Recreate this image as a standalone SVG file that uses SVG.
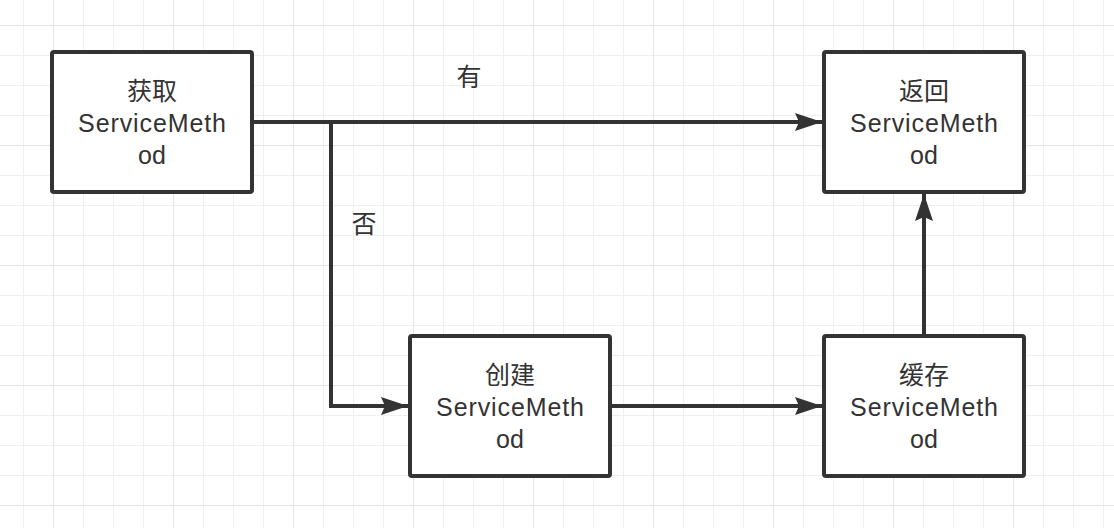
<svg xmlns="http://www.w3.org/2000/svg" width="1114" height="528" viewBox="0 0 1114 528">
  <defs>
    <pattern id="minor" x="23" y="25" width="30" height="30" patternUnits="userSpaceOnUse">
      <path d="M0 0 H30 M0 0 V30" fill="none" stroke="#efefef" stroke-width="2"/>
    </pattern>
    <pattern id="major" x="53" y="25" width="120" height="120" patternUnits="userSpaceOnUse">
      <path d="M0 0 H120 M0 0 V120" fill="none" stroke="#e4e4e4" stroke-width="2"/>
    </pattern>
    <marker id="arrow" viewBox="0 0 27 18" refX="27" refY="9" markerWidth="27" markerHeight="18" markerUnits="userSpaceOnUse" orient="auto">
      <path d="M0 0 L27 9 L0 18 L4 9 Z" fill="#333333"/>
    </marker>
    <style>
      .box { fill: #ffffff; stroke: #333333; stroke-width: 4; }
      .t { font-family: "Liberation Sans", "Noto Sans CJK SC", sans-serif; font-size: 25px; fill: #333333; text-anchor: middle; }
      .lat { letter-spacing: 0.9px; }
      .edge { fill: none; stroke: #333333; stroke-width: 4; }
    </style>
  </defs>
  <rect width="1114" height="528" fill="#ffffff"/>
  <rect width="1114" height="528" fill="url(#minor)"/>
  <rect width="1114" height="528" fill="url(#major)"/>

  <g id="connectors">
    <path class="edge" d="M252 122 H822" marker-end="url(#arrow)"/>
    <path class="edge" d="M331 122 V406 H408" marker-end="url(#arrow)"/>
    <path class="edge" d="M610 406 H822" marker-end="url(#arrow)"/>
    <path class="edge" d="M924 336 V194" marker-end="url(#arrow)"/>
    <text class="t" x="469" y="86">有</text>
    <text class="t" x="364" y="233">否</text>
  </g>

  <g id="node-get">
    <rect class="box" x="52" y="52" width="200" height="140" rx="2"/>
    <text class="t" x="152" y="100">获取</text>
    <text class="t lat" x="152.5" y="132">ServiceMeth</text>
    <text class="t" x="152" y="164">od</text>
  </g>
  <g id="node-return">
    <rect class="box" x="824" y="52" width="200" height="140" rx="2"/>
    <text class="t" x="924" y="100">返回</text>
    <text class="t lat" x="924.5" y="132">ServiceMeth</text>
    <text class="t" x="924" y="164">od</text>
  </g>
  <g id="node-create">
    <rect class="box" x="410" y="336" width="200" height="140" rx="2"/>
    <text class="t" x="510" y="384">创建</text>
    <text class="t lat" x="510.5" y="416">ServiceMeth</text>
    <text class="t" x="510" y="448">od</text>
  </g>
  <g id="node-cache">
    <rect class="box" x="824" y="336" width="200" height="140" rx="2"/>
    <text class="t" x="924" y="384">缓存</text>
    <text class="t lat" x="924.5" y="416">ServiceMeth</text>
    <text class="t" x="924" y="448">od</text>
  </g>
</svg>
